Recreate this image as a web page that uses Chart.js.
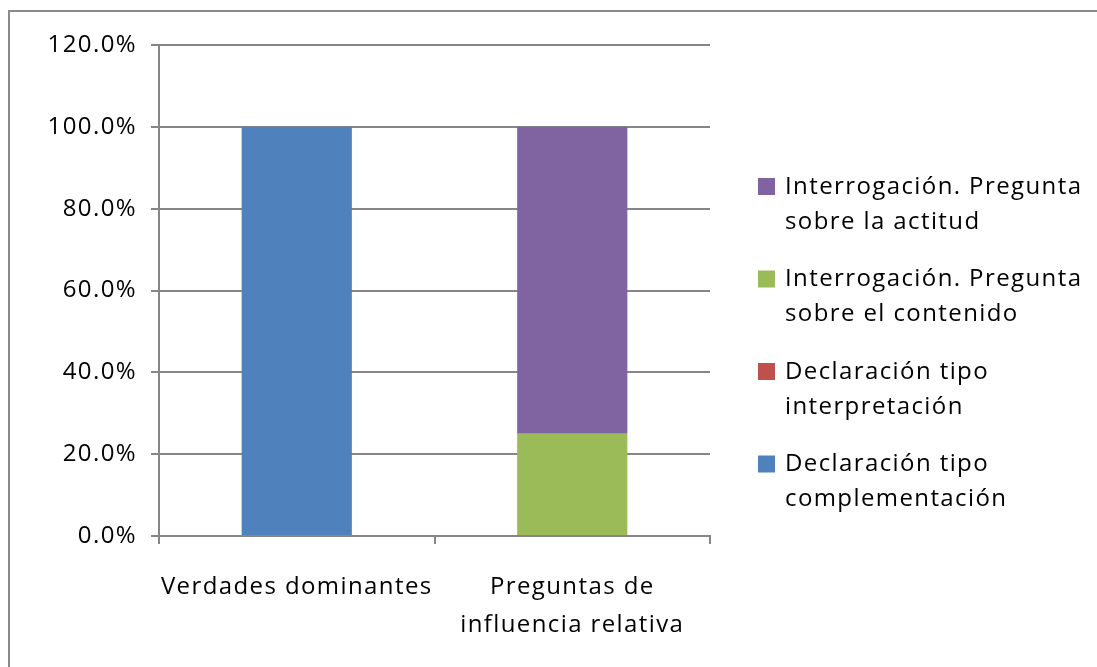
<!DOCTYPE html>
<html>
<head>
<meta charset="utf-8">
<script src="https://cdn.jsdelivr.net/npm/chart.js@4/dist/chart.umd.min.js"></script>
<style>
  html, body { margin: 0; padding: 0; background: #fff; overflow: hidden; }
  #wrap { position: relative; width: 1097px; height: 667px; }
  #frame { position: absolute; left: 8px; top: 10px; width: 1200px; height: 800px; border: 2px solid #8a8a8a; box-sizing: border-box; pointer-events: none; }
  canvas { position: absolute; left: 0; top: 0; }
</style>
</head>
<body>
<div id="wrap">
  <div id="frame"></div>
  <canvas id="c" width="1097" height="667"></canvas>
</div>
<script>
const categories = [['Verdades dominantes'], ['Preguntas de', 'influencia relativa']];
const seriesNames = [
  ['Declaración tipo', 'complementación'],
  ['Declaración tipo', 'interpretación'],
  ['Interrogación. Pregunta', 'sobre el contenido'],
  ['Interrogación. Pregunta', 'sobre la actitud']
];
const seriesColors = ['#4F81BD', '#C0504D', '#9BBB59', '#8064A2'];
const complementacion = [100, 0];
const interpretacion = [0, 0];
const contenido = [0, 25];
const actitud = [0, 75];
const seriesValues = [complementacion, interpretacion, contenido, actitud];
const yTicks = { min: 0, max: 120, step: 20 };

const FONT = '"Open Sans", Lato, sans-serif';
const FS = 24;
const LS = '1.4px';

const spacingPlugin = {
  id: 'spacing',
  beforeInit(chart) { chart.ctx.letterSpacing = LS; },
  beforeLayout(chart) { chart.ctx.letterSpacing = LS; },
  beforeDraw(chart) { chart.ctx.letterSpacing = LS; }
};

const legendPlugin = {
  id: 'sideLegend',
  afterDraw(chart) {
    const ctx = chart.ctx;
    ctx.save();
    ctx.letterSpacing = LS;
    ctx.font = FS + 'px ' + FONT;
    ctx.textBaseline = 'middle';
    ctx.textAlign = 'left';
    const ds = chart.data.datasets;
    const x0 = 758, sq = 17, tx = 785;
    let y = 187;
    for (let i = ds.length - 1; i >= 0; i--) {
      const lines = ds[i].legendLines;
      ctx.fillStyle = ds[i].backgroundColor;
      ctx.fillRect(x0, y - 9, sq, sq);
      ctx.fillStyle = '#000';
      lines.forEach((ln, k) => ctx.fillText(ln, tx, y + k * 35));
      y += 92.5;
    }
    ctx.restore();
  }
};

new Chart(document.getElementById('c'), {
  type: 'bar',
  data: {
    labels: categories,
    datasets: seriesNames.map((n, i) => ({
      label: n.join(' '),
      legendLines: n,
      data: seriesValues[i],
      backgroundColor: seriesColors[i],
      borderWidth: 0,
      categoryPercentage: 1,
      barPercentage: 0.4
    }))
  },
  options: {
    responsive: false,
    animation: false,
    layout: { padding: { left: 0, top: 45, right: 387, bottom: 0 } },
    plugins: { legend: { display: false }, tooltip: { enabled: false } },
    scales: {
      x: {
        stacked: true,
        offset: true,
        grid: { offset: true, drawOnChartArea: false, drawTicks: true, tickLength: 8, color: '#868686', lineWidth: 2 },
        border: { color: '#868686', width: 2 },
        ticks: { color: '#000', font: { family: FONT, size: FS, lineHeight: 1.55 }, padding: 25, maxRotation: 0 },
        afterFit(s) { s.height = 131; }
      },
      y: {
        stacked: true,
        min: yTicks.min,
        max: yTicks.max,
        ticks: { stepSize: yTicks.step, color: '#000', font: { family: FONT, size: FS }, padding: 14,
          callback: v => v.toFixed(1) + '%' },
        grid: { color: '#868686', lineWidth: 2, tickLength: 8 },
        border: { color: '#868686', width: 2 },
        afterFit(s) { s.width = 159; }
      }
    }
  },
  plugins: [spacingPlugin, legendPlugin]
});
</script>
</body>
</html>
